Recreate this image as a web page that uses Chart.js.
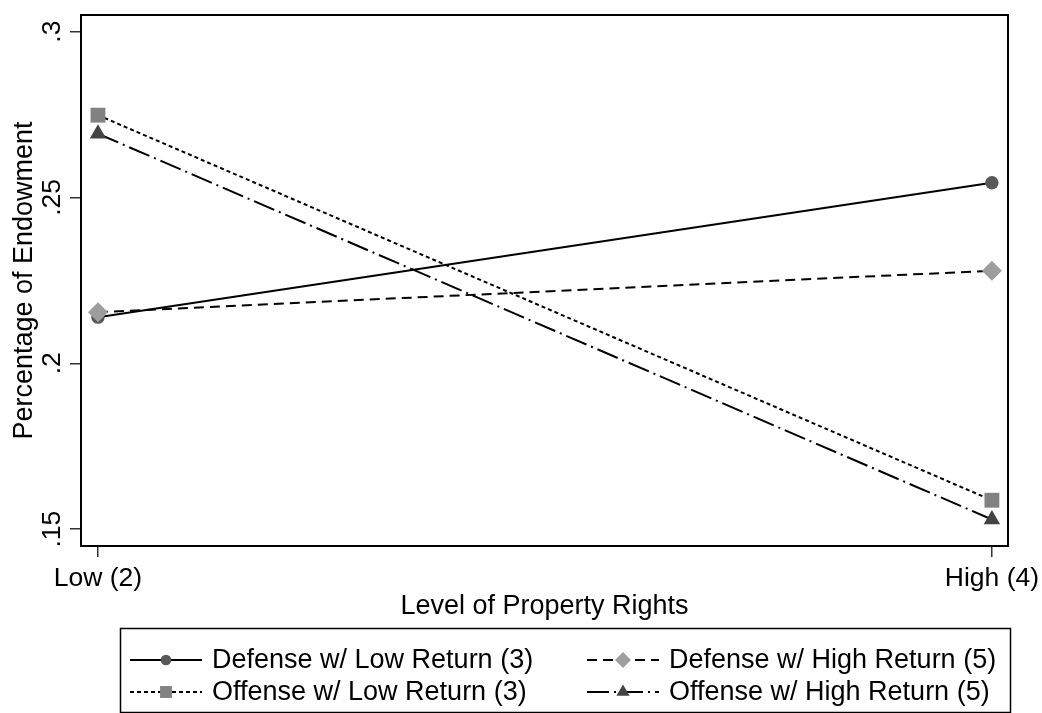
<!DOCTYPE html>
<html>
<head>
<meta charset="utf-8">
<script src="https://cdn.jsdelivr.net/npm/chart.js@4/dist/chart.umd.min.js"></script>
<style>
  html, body { margin: 0; padding: 0; background: #ffffff; }
  #wrap { width: 1042px; height: 713px; position: relative; }
</style>
</head>
<body>
<div id="wrap"><canvas id="c" width="1042" height="713"></canvas></div>
<script>
// Level of property rights (x positions and their labels)
const categories = ['Low (2)', 'High (4)'];
const xValues = [2, 4];

// Share of endowment spent, by role and return
const defenseLowReturn = [0.2139, 0.2544];
const defenseHighReturn = [0.2154, 0.2279];
const offenseLowReturn = [0.2748, 0.1587];
const offenseHighReturn = [0.2692, 0.1529];

// Y axis ticks
const yTickValues = [0.15, 0.2, 0.25, 0.3];
const yTickLabels = ['.15', '.2', '.25', '.3'];

const seriesNames = [
  'Defense w/ Low Return (3)',
  'Defense w/ High Return (5)',
  'Offense w/ Low Return (3)',
  'Offense w/ High Return (5)'
];

const FONT = '"Liberation Sans", Arial, sans-serif';
const AXIS_FONT = '26.5px ' + FONT;
const TITLE_FONT = '27px ' + FONT;
const LEGEND_FONT = '27px ' + FONT;

function pts(vals) {
  return vals.map((v, i) => ({ x: xValues[i], y: v }));
}

const styles = [
  { dash: [], shape: 'circle', r: 6.7, fill: '#585858' },
  { dash: [10, 6], shape: 'rectRot', r: 10, fill: '#9e9e9e' },
  { dash: [4, 3], shape: 'rect', r: 10.5, fill: '#828282' },
  { dash: [22, 5, 2, 5], shape: 'triangle', r: 9.5, fill: '#444444' }
];

const seriesValues = [defenseLowReturn, defenseHighReturn, offenseLowReturn, offenseHighReturn];

const datasets = seriesValues.map((vals, i) => ({
  label: seriesNames[i],
  data: pts(vals),
  borderColor: '#000000',
  borderWidth: 2,
  borderDash: styles[i].dash,
  pointStyle: styles[i].shape,
  pointRadius: styles[i].r,
  pointBackgroundColor: styles[i].fill,
  pointBorderColor: styles[i].fill,
  pointBorderWidth: 0,
  tension: 0,
  fill: false,
  order: 4 - i
}));

// Frame, rotated y tick labels, axis titles and the boxed legend
const decorations = {
  id: 'decorations',
  afterDraw(chart) {
    const ctx = chart.ctx;
    const a = chart.chartArea;
    const ys = chart.scales.y;
    ctx.save();

    // plot frame
    ctx.strokeStyle = '#000000';
    ctx.lineWidth = 2;
    ctx.strokeRect(a.left, a.top, a.right - a.left, a.bottom - a.top);

    // y tick labels, rotated
    ctx.fillStyle = '#000000';
    ctx.font = AXIS_FONT;
    ctx.textAlign = 'center';
    ctx.textBaseline = 'alphabetic';
    yTickValues.forEach((v, i) => {
      const py = ys.getPixelForValue(v);
      ctx.save();
      ctx.translate(60, py);
      ctx.rotate(-Math.PI / 2);
      ctx.fillText(yTickLabels[i], 0, 0);
      ctx.restore();
    });

    // y axis title
    ctx.font = TITLE_FONT;
    ctx.save();
    ctx.translate(32, (a.top + a.bottom) / 2);
    ctx.rotate(-Math.PI / 2);
    ctx.fillText('Percentage of Endowment', 0, 0);
    ctx.restore();

    // x axis title
    ctx.fillText('Level of Property Rights', (a.left + a.right) / 2, 614);

    // legend box
    ctx.lineWidth = 1.5;
    ctx.strokeStyle = '#000000';
    ctx.strokeRect(120.5, 628.5, 890, 84);

    const cols = [130, 587];
    const rows = [660, 692];
    chart.data.datasets.forEach((ds, i) => {
      const x0 = cols[i % 2];
      const y0 = rows[Math.floor(i / 2)];
      ctx.save();
      ctx.strokeStyle = '#000000';
      ctx.lineWidth = 2;
      ctx.setLineDash(ds.borderDash);
      ctx.beginPath();
      ctx.moveTo(x0, y0);
      ctx.lineTo(x0 + 72, y0);
      ctx.stroke();
      ctx.setLineDash([]);
      ctx.fillStyle = ds.pointBackgroundColor;
      ctx.strokeStyle = ds.pointBorderColor;
      Chart.helpers.drawPoint(ctx, {
        pointStyle: ds.pointStyle,
        radius: ds.pointRadius * 0.8,
        rotation: 0,
        borderWidth: 0
      }, x0 + 36, y0);
      ctx.restore();
      ctx.fillStyle = '#000000';
      ctx.font = LEGEND_FONT;
      ctx.textAlign = 'left';
      ctx.textBaseline = 'middle';
      ctx.fillText(ds.label, x0 + 82, y0 + 1);
    });

    ctx.restore();
  }
};

new Chart(document.getElementById('c'), {
  type: 'line',
  data: { datasets },
  options: {
    responsive: false,
    animation: false,
    events: [],
    layout: { padding: { left: 0, top: 15, right: 34, bottom: 0 } },
    plugins: {
      legend: { display: false },
      tooltip: { enabled: false },
      title: { display: false }
    },
    scales: {
      x: {
        type: 'linear',
        min: 1.962,
        max: 4.036,
        afterBuildTicks: s => { s.ticks = xValues.map(v => ({ value: v })); },
        afterFit: s => {
          s.height = 713 - 546;
          s.paddingLeft = 0;
          s.paddingRight = 0;
        },
        border: { display: false },
        grid: {
          display: true,
          drawOnChartArea: false,
          drawTicks: true,
          tickLength: 11,
          color: '#333333',
          lineWidth: 1.5
        },
        ticks: {
          autoSkip: false,
          maxRotation: 0,
          minRotation: 0,
          padding: 6,
          color: '#000000',
          font: { family: FONT, size: 26.5 },
          callback: (v) => categories[xValues.indexOf(v)]
        }
      },
      y: {
        type: 'linear',
        min: 0.1449,
        max: 0.305,
        afterBuildTicks: s => { s.ticks = yTickValues.map(v => ({ value: v })); },
        afterFit: s => {
          s.width = 81;
          s.paddingTop = 0;
          s.paddingBottom = 0;
        },
        border: { display: false },
        grid: {
          display: true,
          drawOnChartArea: false,
          drawTicks: true,
          tickLength: 11,
          color: '#333333',
          lineWidth: 1.5
        },
        ticks: { display: false }
      }
    }
  },
  plugins: [decorations]
});
</script>
</body>
</html>
